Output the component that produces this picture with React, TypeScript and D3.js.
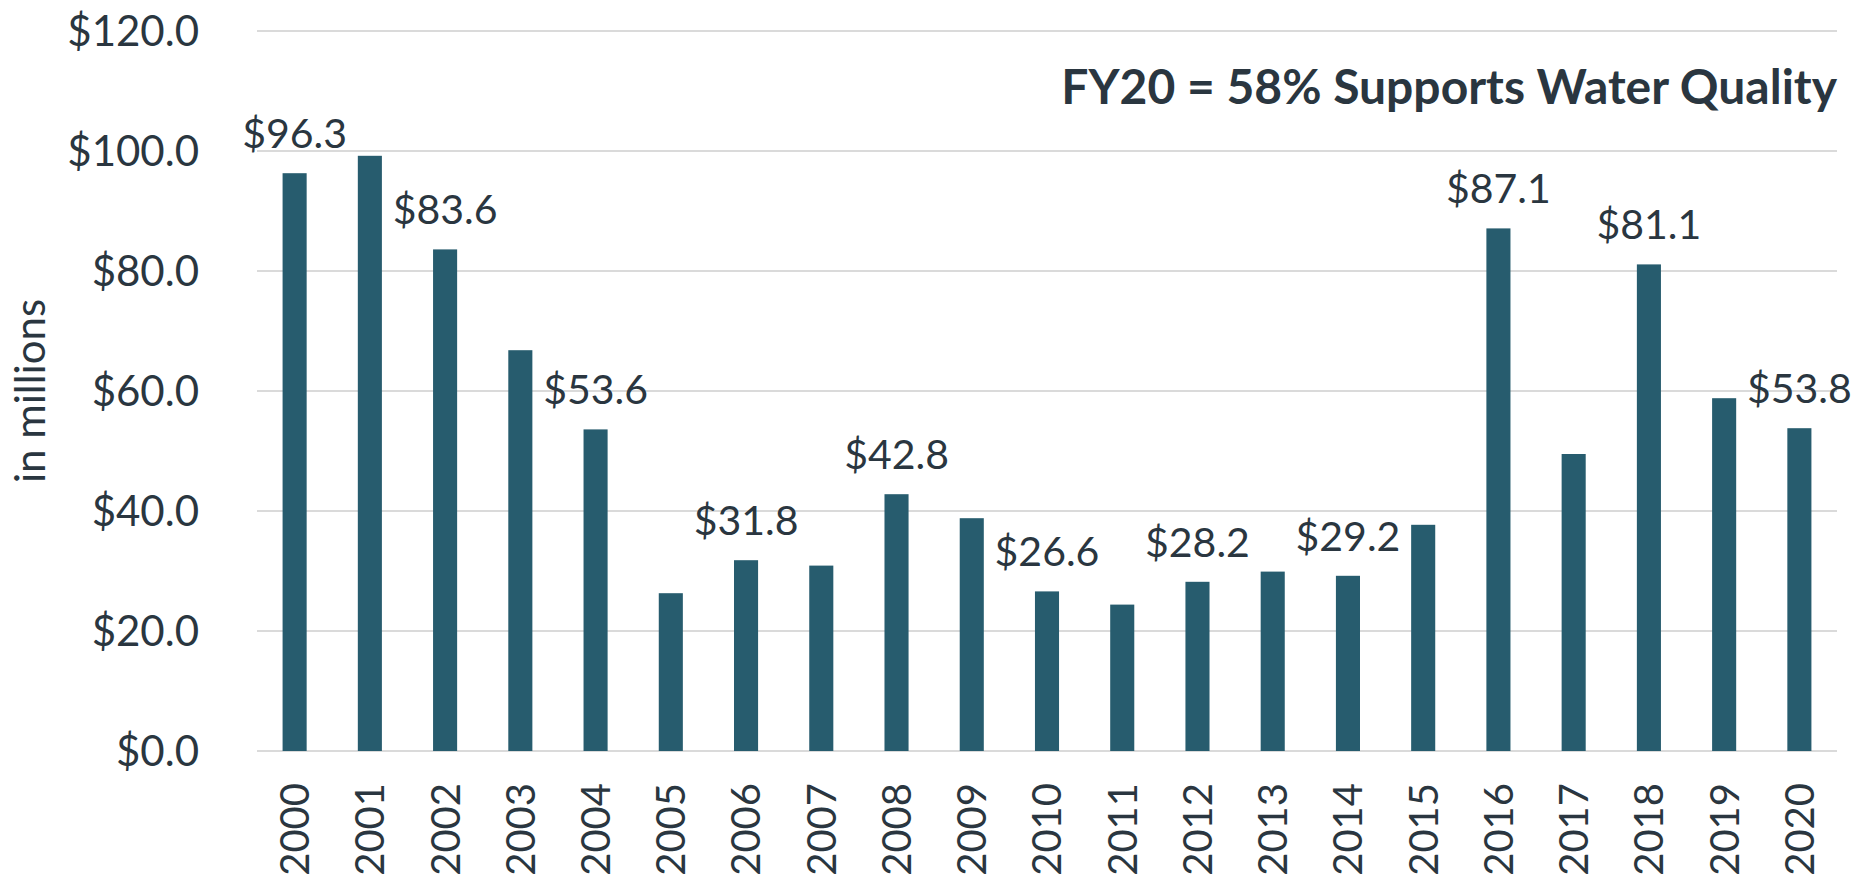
import React, { useRef, useEffect } from 'react';
import * as d3 from 'd3';

// fiscal years and funding (in millions)
const years = ['2000', '2001', '2002', '2003', '2004', '2005', '2006', '2007', '2008', '2009', '2010',
  '2011', '2012', '2013', '2014', '2015', '2016', '2017', '2018', '2019', '2020'];
const funding = [96.3, 99.2, 83.6, 66.8, 53.6, 26.3, 31.8, 30.9, 42.8, 38.8, 26.6,
  24.4, 28.2, 29.9, 29.2, 37.7, 87.1, 49.5, 81.1, 58.8, 53.8];
// only every other year gets a value label
const labeledYears = ['2000', '2002', '2004', '2006', '2008', '2010', '2012', '2014', '2016', '2018', '2020'];
const yTicks = [0, 20, 40, 60, 80, 100, 120];
const title = 'FY20 = 58% Supports Water Quality';
const yTitle = 'in millions';

const W = 1871;
const H = 881;
const FONT = 'Lato, "Open Sans", sans-serif';
const TEXT = '#2a3640';
const BAR = '#275c6e';

const FundingChart = () => {
  const ref = useRef<SVGSVGElement | null>(null);

  useEffect(() => {
    if (!ref.current) return;
    const svg = d3.select(ref.current);
    svg.selectAll('*').remove();

    const left = 257;
    const right = 1837;
    const top = 31;
    const bottom = 751;

    const x = d3.scaleBand<string>()
      .domain(years)
      .range([left, right])
      .paddingInner(0.68)
      .paddingOuter(0.34);

    const y = d3.scaleLinear()
      .domain([0, 120])
      .range([bottom, top]);

    // gridlines
    svg.append('g')
      .selectAll('line')
      .data(yTicks)
      .enter()
      .append('line')
      .attr('x1', left)
      .attr('x2', right)
      .attr('y1', d => y(d))
      .attr('y2', d => y(d))
      .attr('stroke', '#dadada')
      .attr('stroke-width', 2);

    // y tick labels
    svg.append('g')
      .selectAll('text')
      .data(yTicks)
      .enter()
      .append('text')
      .attr('x', 199)
      .attr('y', d => y(d))
      .attr('dy', '0.36em')
      .attr('text-anchor', 'end')
      .attr('font-family', FONT)
      .attr('font-size', 42)
      .attr('fill', TEXT)
      .text(d => `$${d.toFixed(1)}`);

    // bars
    svg.append('g')
      .selectAll('rect')
      .data(funding)
      .enter()
      .append('rect')
      .attr('x', (d, i) => x(years[i]) as number)
      .attr('y', d => y(d))
      .attr('width', x.bandwidth())
      .attr('height', d => y(0) - y(d))
      .attr('fill', BAR);

    // value labels
    svg.append('g')
      .selectAll('text')
      .data(funding.map((v, i) => ({ v, year: years[i] })).filter(d => labeledYears.includes(d.year)))
      .enter()
      .append('text')
      .attr('x', d => (x(d.year) as number) + x.bandwidth() / 2)
      .attr('y', d => y(d.v) - 25)
      .attr('text-anchor', 'middle')
      .attr('font-family', FONT)
      .attr('font-size', 41)
      .attr('fill', TEXT)
      .text(d => `$${d.v.toFixed(1)}`);

    // year labels, rotated
    svg.append('g')
      .selectAll('text')
      .data(years)
      .enter()
      .append('text')
      .attr('transform', d => `translate(${(x(d) as number) + x.bandwidth() / 2},783) rotate(-90)`)
      .attr('dy', '0.36em')
      .attr('text-anchor', 'end')
      .attr('font-family', FONT)
      .attr('font-size', 40)
      .attr('fill', TEXT)
      .text(d => d);

    // y axis title
    svg.append('text')
      .attr('transform', 'translate(30,391) rotate(-90)')
      .attr('dy', '0.36em')
      .attr('text-anchor', 'middle')
      .attr('font-family', FONT)
      .attr('font-size', 42)
      .attr('fill', TEXT)
      .text(yTitle);

    // headline
    svg.append('text')
      .attr('x', right)
      .attr('y', 104)
      .attr('text-anchor', 'end')
      .attr('font-family', FONT)
      .attr('font-weight', 'bold')
      .attr('font-size', 48)
      .attr('fill', TEXT)
      .text(title);
  }, []);

  return (
    <svg
      ref={ref}
      width={W}
      height={H}
      style={{ position: 'absolute', left: 0, top: 0, background: '#fff' }}
    />
  );
};

export default function App() {
  return <FundingChart />;
}
